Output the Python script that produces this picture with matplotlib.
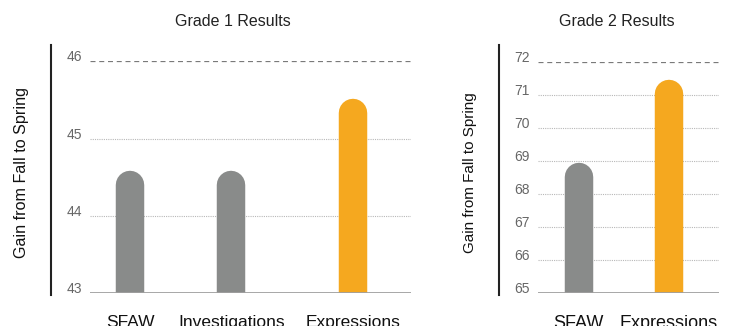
import matplotlib
matplotlib.use("Agg")
import matplotlib.pyplot as plt
from matplotlib.lines import Line2D
from matplotlib.transforms import offset_copy

plt.rcParams['font.family'] = ['Liberation Sans', 'DejaVu Sans']

# data
g1_programs = ["SFAW", "Investigations", "Expressions"]
g1_gain = [44.59, 44.59, 45.52]
g1_ticks = [43, 44, 45, 46]

g2_programs = ["SFAW", "Expressions"]
g2_gain = [68.96, 71.47]
g2_ticks = [65, 66, 67, 68, 69, 70, 71, 72]

GRAY = "#898b8a"
ORANGE = "#f5a81f"
W, H = 744, 326

fig = plt.figure(figsize=(W / 100, H / 100), dpi=100)


def panel(rect, spine_x, names, vals, xpos, xlim, ticks, title, title_x,
          ylab_x, ylab_size, xlab_size):
    ax = fig.add_axes(rect)
    lo, hi = ticks[0], ticks[-1]
    ax.set_ylim(lo, hi)
    ax.set_xlim(xlim)
    for s in ax.spines.values():
        s.set_visible(False)

    # grid lines
    for t in ticks[1:-1]:
        ax.axhline(t, color="#b8b8b8", lw=0.8, ls=(0, (1, 1)), zorder=1)
    ax.axhline(hi, color="#7a7a7a", lw=0.9, ls=(0, (4, 3)), zorder=1)
    ax.axhline(lo, color="#a0a0a0", lw=1.3, zorder=4)

    # bars with a rounded top: thick line, shifted down by the cap radius
    bar_w = 20.5
    trans = offset_copy(ax.transData, fig=fig, x=0, y=-bar_w / 2, units='points')
    colors = [GRAY] * (len(vals) - 1) + [ORANGE]
    for x, v, c in zip(xpos, vals, colors):
        ax.plot([x, x], [lo - 1, v], color=c, lw=bar_w,
                solid_capstyle='round', transform=trans, zorder=3)

    ax.set_yticks(ticks, [str(t) for t in ticks], va='baseline')
    ax.tick_params(axis='y', length=0, pad=5.5, labelsize=10, labelcolor='#666666')
    ax.set_xticks(xpos, names)
    ax.tick_params(axis='x', length=0, pad=15.5, labelsize=xlab_size, labelcolor='#111111')

    fig.text(title_x, 1 - 21 / H, title, ha='center', va='center',
             fontsize=11.5, color='#222222')
    fig.text(ylab_x, 1 - 173 / H, "Gain from Fall to Spring", rotation=90,
             ha='center', va='center', fontsize=ylab_size, color='#111111')
    fig.add_artist(Line2D([spine_x / W] * 2, [1 - 45 / H, 1 - 295 / H],
                          color='#222222', lw=1.5))
    return ax


panel([90 / W, (H - 293.3) / H, 321 / W, 232 / H], 51,
      g1_programs, g1_gain, [0, 1, 2.2], (-0.396, 2.774), g1_ticks,
      "Grade 1 Results", 233 / W, 22 / W, 11.6, 12.5)

panel([537.7 / W, (H - 293.3) / H, 181 / W, 231.3 / H], 499.3,
      g2_programs, g2_gain, [0, 1], (-0.454, 1.55), g2_ticks,
      "Grade 2 Results", 616.7 / W, 470 / W, 11.0, 13)

fig.savefig("out.png", dpi=100)
